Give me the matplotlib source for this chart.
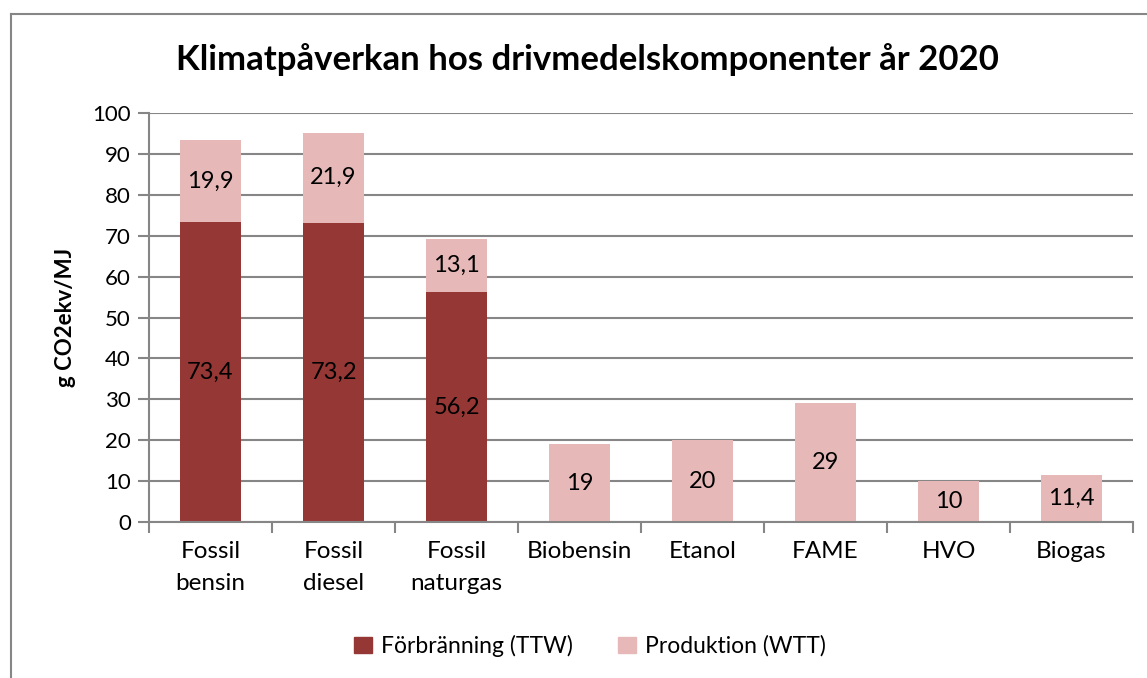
import numpy as np
import matplotlib.pyplot as plt
from matplotlib.lines import Line2D
from matplotlib.patches import Patch

plt.rcParams['font.family'] = ['Lato', 'DejaVu Sans']

categories = ['Fossil\nbensin', 'Fossil\ndiesel', 'Fossil\nnaturgas', 'Biobensin',
              'Etanol', 'FAME', 'HVO', 'Biogas']
ttw = [73.4, 73.2, 56.2, 0, 0, 0, 0, 0]
wtt = [19.9, 21.9, 13.1, 19, 20, 29, 10, 11.4]
ttw_labels = ['73,4', '73,2', '56,2', '', '', '', '', '']
wtt_labels = ['19,9', '21,9', '13,1', '19', '20', '29', '10', '11,4']
yticks = [0, 10, 20, 30, 40, 50, 60, 70, 80, 90, 100]

dark = '#953735'
light = '#E6B9B8'
grey = '#868686'

fig = plt.figure(figsize=(11.47, 6.78), dpi=100)
ax = fig.add_axes([149 / 1147, 1 - 522 / 678, (1133 - 149) / 1147, (522 - 113) / 678])

x = np.arange(len(categories))
ax.bar(x, ttw, width=0.5, color=dark, zorder=2)
ax.bar(x, wtt, width=0.5, bottom=ttw, color=light, zorder=2)

# labels in the middle of each segment
for i in range(len(categories)):
    if ttw_labels[i]:
        ax.text(x[i], ttw[i] / 2, ttw_labels[i], ha='center', va='center', fontsize=17, zorder=3)
    ax.text(x[i], ttw[i] + wtt[i] / 2, wtt_labels[i], ha='center', va='center', fontsize=17, zorder=3)

ax.set_xlim(-0.5, len(categories) - 0.5)
ax.set_ylim(0, 100)
ax.set_yticks(yticks)
ax.set_yticklabels([str(t) for t in yticks], fontsize=16)
ax.yaxis.grid(True, color=grey, linewidth=1.5, zorder=0)
ax.set_axisbelow(True)

ax.set_xticks(x)
ax.set_xticklabels(categories, fontsize=17.5, linespacing=1.6)
ax.set_xticks(np.arange(len(categories) + 1) - 0.5, minor=True)
ax.tick_params(axis='x', which='major', length=0, pad=14)
ax.tick_params(axis='x', which='minor', length=8, color=grey, width=1.5)
ax.tick_params(axis='y', length=8, color=grey, width=1.5, pad=5)

for s in ['top', 'right']:
    ax.spines[s].set_visible(False)
for s in ['left', 'bottom']:
    ax.spines[s].set_color(grey)
    ax.spines[s].set_linewidth(1.5)

ax.set_ylabel('g CO2ekv/MJ', fontsize=16, fontweight='bold', labelpad=12)

fig.text(587 / 1147, 1 - 60 / 678, 'Klimatpåverkan hos drivmedelskomponenter år 2020',
         ha='center', va='center', fontsize=25, fontweight='bold')

handles = [Patch(color=dark, label='Förbränning (TTW)'),
           Patch(color=light, label='Produktion (WTT)')]
fig.legend(handles=handles, loc='center', bbox_to_anchor=(590 / 1147, 1 - 646 / 678),
           ncol=2, frameon=False, fontsize=16.5, handlelength=0.75, handleheight=0.75,
           columnspacing=2.0, handletextpad=0.4)

# chart border (top and left visible in the crop)
fig.add_artist(Line2D([10.5 / 1147, 1.0], [1 - 14 / 678] * 2, color=grey, linewidth=1.5))
fig.add_artist(Line2D([10.5 / 1147] * 2, [0, 1 - 14 / 678], color=grey, linewidth=1.5))

fig.savefig('out.png', dpi=100)
